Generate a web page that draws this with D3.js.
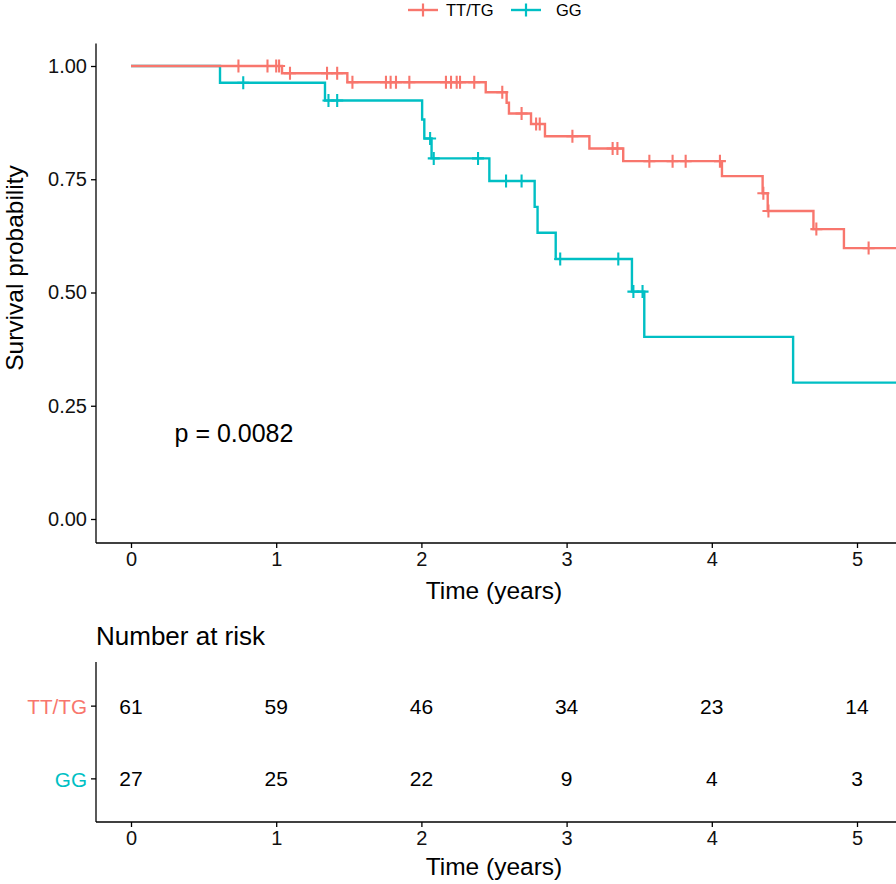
<!DOCTYPE html>
<html>
<head>
<meta charset="utf-8">
<script src="https://cdn.jsdelivr.net/npm/d3@7"></script>
<style>
  html, body { margin: 0; padding: 0; background: #fff; }
  svg { display: block; font-family: "Liberation Sans", Arial, sans-serif; }
</style>
</head>
<body>
<svg id="chart" width="896" height="884"></svg>
<script>
// ---------- data ----------
const groups = ["TT/TG", "GG"];
const groupColors = ["#F8766D", "#00BFC4"];
const endTime = 5.35;

// Kaplan–Meier steps: time of each step and survival after it
const ttTimes = [0, 1.04, 1.49, 2.443, 2.587, 2.603, 2.755, 2.851, 3.157, 3.39, 4.07, 4.35, 4.385, 4.70, 4.91];
const ttSurv  = [1.0, 0.984, 0.964, 0.942, 0.919, 0.895, 0.872, 0.845, 0.818, 0.790, 0.757, 0.719, 0.680, 0.640, 0.598];
const ggTimes = [0, 0.613, 1.336, 2.005, 2.02, 2.07, 2.468, 2.78, 2.80, 2.925, 3.45, 3.535, 4.56];
const ggSurv  = [1.0, 0.963, 0.924, 0.882, 0.840, 0.796, 0.746, 0.689, 0.632, 0.574, 0.502, 0.402, 0.301];

// censoring marks
const ttCensorTimes = [0.74, 0.94, 1.0, 1.02, 1.095, 1.35, 1.42, 1.525, 1.756, 1.788, 1.825, 1.917,
  2.169, 2.204, 2.243, 2.266, 2.364, 2.557, 2.69, 2.79, 2.815, 3.04, 3.317, 3.35,
  3.57, 3.73, 3.82, 4.056, 4.355, 4.39, 4.72, 5.08];
const ggCensorTimes = [0.773, 1.36, 1.42, 2.06, 2.085, 2.39, 2.583, 2.69, 2.956, 3.356, 3.46, 3.523];

const pValueText = "p = 0.0082";
const pValueX = 0.3, pValueY = 0.19;

const xTicks = [0, 1, 2, 3, 4, 5];
const yTicks = [0, 0.25, 0.5, 0.75, 1.0];
const riskTimes = [0, 1, 2, 3, 4, 5];
const ttRisk = [61, 59, 46, 34, 23, 14];
const ggRisk = [27, 25, 22, 9, 4, 3];

// ---------- helpers ----------
const svg = d3.select("#chart");
const W = 896;
const panelLeft = 96;

const x = d3.scaleLinear().domain([0, 5]).range([131, 857]);
const y = d3.scaleLinear().domain([0, 1]).range([519, 66]);
const panelTop = 43.4, panelBottom = 543;

function survAt(times, surv, t) {
  let s = surv[0];
  for (let i = 0; i < times.length; i++) { if (times[i] <= t) s = surv[i]; }
  return s;
}

const textCol = "#000";
const tickCol = "#111";

// ---------- legend ----------
const legendY = 10;
const legendItems = [
  { label: groups[0], color: groupColors[0], keyX: 408, textX: 446 },
  { label: groups[1], color: groupColors[1], keyX: 511, textX: 556 }
];
const lg = svg.append("g");
legendItems.forEach(it => {
  lg.append("line").attr("x1", it.keyX).attr("x2", it.keyX + 30)
    .attr("y1", legendY).attr("y2", legendY)
    .attr("stroke", it.color).attr("stroke-width", 2.4);
  const cx = it.keyX + 15;
  lg.append("path").attr("d", `M${cx-6.5},${legendY}H${cx+6.5}M${cx},${legendY-6.5}V${legendY+6.5}`)
    .attr("stroke", it.color).attr("stroke-width", 2.2).attr("fill", "none");
  lg.append("text").attr("x", it.textX).attr("y", legendY).attr("dy", "0.35em")
    .attr("font-size", 16.5).attr("fill", textCol).text(it.label);
});

// ---------- survival panel ----------
svg.append("clipPath").attr("id", "clip")
  .append("rect").attr("x", panelLeft).attr("y", panelTop - 10)
  .attr("width", W - panelLeft).attr("height", panelBottom - panelTop + 20);

const plot = svg.append("g").attr("clip-path", "url(#clip)");

const series = [
  { times: ttTimes, surv: ttSurv, cens: ttCensorTimes, color: groupColors[0] },
  { times: ggTimes, surv: ggSurv, cens: ggCensorTimes, color: groupColors[1] }
];

const line = d3.line().x(d => x(d[0])).y(d => y(d[1])).curve(d3.curveStepAfter);

[series[1], series[0]].forEach(s => {
  const pts = s.times.map((t, i) => [t, s.surv[i]]);
  pts.push([endTime, s.surv[s.surv.length - 1]]);
  plot.append("path").datum(pts).attr("d", line)
    .attr("fill", "none").attr("stroke", s.color).attr("stroke-width", 2.4);
  s.cens.forEach(t => {
    const cx = x(t), cy = y(survAt(s.times, s.surv, t));
    plot.append("path").attr("d", `M${cx-6},${cy}H${cx+6}M${cx},${cy-6.5}V${cy+6.5}`)
      .attr("stroke", s.color).attr("stroke-width", 2.1).attr("fill", "none");
  });
});

// axes
function styleAxis(a) {
  a.selectAll(".domain, .tick line").attr("stroke", "#000").attr("stroke-width", 1.3);
  a.selectAll("text").attr("font-size", 20).attr("fill", tickCol).attr("font-family", "Liberation Sans, Arial, sans-serif");
}
const axisX = svg.append("g").attr("transform", `translate(0,${panelBottom})`)
  .call(d3.axisBottom(x).tickValues(xTicks).tickFormat(d3.format("d")).tickSizeOuter(0).tickSize(5).tickPadding(4));
axisX.select(".domain").attr("d", `M${panelLeft},0H${W}`);
const axisY = svg.append("g").attr("transform", `translate(${panelLeft},0)`)
  .call(d3.axisLeft(y).tickValues(yTicks).tickFormat(d3.format(".2f")).tickSizeOuter(0).tickSize(5).tickPadding(4));
axisY.select(".domain").attr("d", `M0,${panelTop}V${panelBottom}`);
styleAxis(axisX); styleAxis(axisY);

svg.append("text").attr("x", (x(0) + x(5)) / 2).attr("y", 590).attr("dy", "0.35em")
  .attr("text-anchor", "middle").attr("font-size", 24.5).attr("fill", textCol).text("Time (years)");
svg.append("text").attr("transform", `translate(14,268) rotate(-90)`)
  .attr("dy", "0.35em").attr("text-anchor", "middle").attr("font-size", 24.5).attr("fill", textCol)
  .text("Survival probability");

svg.append("text").attr("x", x(pValueX)).attr("y", y(pValueY)).attr("dy", "0.35em")
  .attr("font-size", 25).attr("fill", textCol).text(pValueText);

// ---------- risk table ----------
const rtTop = 662, rtBottom = 822;
svg.append("text").attr("x", panelLeft).attr("y", 636).attr("dy", "0.35em")
  .attr("font-size", 26).attr("fill", textCol).text("Number at risk");

const yr = d3.scalePoint().domain(groups).range([rtTop, rtBottom]).padding(0.6);
const riskRows = [ttRisk, ggRisk];

groups.forEach((g, gi) => {
  riskRows[gi].forEach((n, i) => {
    svg.append("text").attr("x", x(riskTimes[i])).attr("y", yr(g)).attr("dy", "0.38em")
      .attr("text-anchor", "middle").attr("font-size", 21).attr("fill", textCol).text(n);
  });
});

const axisRX = svg.append("g").attr("transform", `translate(0,${rtBottom})`)
  .call(d3.axisBottom(x).tickValues(xTicks).tickFormat(d3.format("d")).tickSizeOuter(0).tickSize(5).tickPadding(4));
axisRX.select(".domain").attr("d", `M${panelLeft},0H${W}`);
const axisRY = svg.append("g").attr("transform", `translate(${panelLeft},0)`)
  .call(d3.axisLeft(yr).tickSizeOuter(0).tickSize(5).tickPadding(4));
axisRY.select(".domain").attr("d", `M0,${rtTop}V${rtBottom}`);
styleAxis(axisRX); styleAxis(axisRY);
axisRY.selectAll("text").attr("font-size", 20.7).attr("dy", "0.38em").attr("fill", (d, i) => groupColors[i]);

svg.append("text").attr("x", (x(0) + x(5)) / 2).attr("y", 866).attr("dy", "0.35em")
  .attr("text-anchor", "middle").attr("font-size", 24.5).attr("fill", textCol).text("Time (years)");
</script>
</body>
</html>
